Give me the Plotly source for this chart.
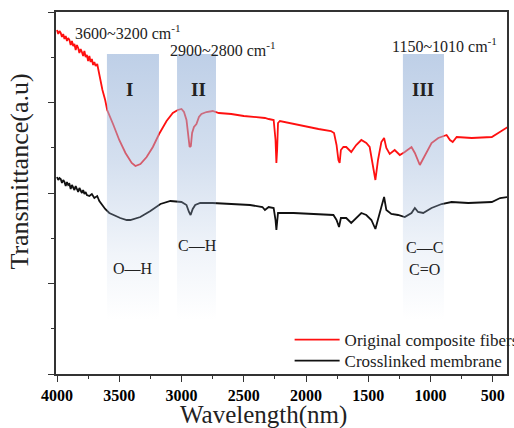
import plotly.graph_objects as go

# ---------------- data (wavenumber, transmittance a.u.) ----------------
red_wn = [4000,3990,3980,3970,3960,3950,3940,3930,3920,3910,3900,3890,3880,3870,3860,3850,3840,3830,3820,3810,
          3800,3790,3780,3770,3760,3750,3740,3730,3720,3710,3700,3690,3677,3665,3653,3635,3613,3597,3550,3500,
          3450,3400,3370,3330,3280,3230,3180,3120,3070,3030,3000,2980,2960,2945,2935,2925,2915,2900,2880,2860,
          2840,2800,2750,2700,2600,2500,2400,2330,2300,2260,2245,2238,2232,2225,2210,2100,2000,1900,1800,1775,
          1755,1740,1730,1720,1700,1677,1637,1597,1556,1516,1489,1462,1443,1422,1395,1373,1355,1328,1288,1247,
          1207,1153,1126,1086,1046,992,938,871,844,822,790,669,508,441,380]
red_t = [342,338,341,339,335,338,333,336,331,334,332,327,331,326,328,322,327,324,319,323,
         320,316,321,315,317,311,316,310,313,307,310,306,308,300,292,282,272,262,248,232,
         219,209,206,208,215,225,238,251,259,262,263,260,252,237,225,226,239,245,248,255,
         258,260,261,259,258,256,255,254,253,252,232,209,222,249,251,248,245,243,241,239,
         227,212,209,222,225,225,220,227,232,229,225,207,192,212,230,234,224,218,222,217,
         220,225,219,207,217,229,234,237,232,230,235,234,235,240,245]

black_wn = [4000,3990,3980,3970,3960,3950,3940,3930,3920,3910,3900,3890,3880,3870,3860,3850,3840,3830,3820,3810,
            3800,3790,3780,3770,3760,3740,3720,3700,3677,3660,3640,3613,3580,3548,3492,3440,3411,3331,3250,3169,
            3089,3000,2960,2940,2927,2910,2890,2850,2750,2600,2450,2350,2330,2300,2260,2245,2238,2232,2225,2100,
            1900,1780,1755,1735,1720,1677,1637,1597,1556,1516,1475,1443,1422,1395,1373,1355,1315,1261,1207,1153,
            1126,1100,1059,992,911,831,697,508,441,380]
black_t = [195,192,194,193,189,192,190,186,190,187,188,183,187,185,182,186,183,180,184,181,
           179,182,178,180,177,176,178,174,176,171,167,163,159,157,154,152,152,155,161,168,
           171,170,167,160,157,163,167,169,169,168,167,165,162,165,164,152,142,150,159,159,
           158,157,152,145,154,154,149,154,159,157,152,143,154,165,175,162,158,157,155,159,
           164,160,159,164,168,170,169,170,174,175]

series_names = ["Original composite fibers", "Crosslinked membrane"]

# shaded absorption bands (wavenumber start, end)
band_ranges = [(3599, 3181), (3036, 2723), (1222, 892)]
band_names = ["I", "II", "III"]
band_bottom, band_top = 52, 318

FONT = "Liberation Serif"

fig = go.Figure()
fig.add_trace(go.Scatter(x=red_wn, y=red_t, mode="lines", name=series_names[0], legend="legend",
                         line=dict(color="#ff1010", width=1.8)))
fig.add_trace(go.Scatter(x=black_wn, y=black_t, mode="lines", name=series_names[1], legend="legend2",
                         line=dict(color="#111111", width=1.8)))

for (a, b) in band_ranges:
    fig.add_trace(go.Scatter(
        x=[a, b, b, a, a], y=[band_bottom, band_bottom, band_top, band_top, band_bottom],
        mode="lines", line=dict(width=0, color="rgba(0,0,0,0)"), fill="toself",
        fillgradient=dict(type="vertical", start=band_bottom, stop=band_top,
                          colorscale=[[0, "rgba(160,185,220,0)"], [0.25, "rgba(160,185,220,0.15)"],
                                      [0.6, "rgba(160,185,220,0.45)"], [1, "rgba(160,185,220,0.68)"]]),
        showlegend=False, hoverinfo="skip"))

ann = []
def txt(x, y, s, size=16, bold=False, xref="x", yref="y", angle=0):
    ann.append(dict(x=x, y=y, xref=xref, yref=yref, text=(f"<b>{s}</b>" if bold else s),
                    showarrow=False, textangle=angle, xanchor="center", yanchor="middle",
                    font=dict(family=FONT, size=size, color="#222222")))

txt(3426, 340, "3600~3200 cm<sup>-1</sup>")
txt(2663, 323, "2900~2800 cm<sup>-1</sup>")
txt(884, 327, "1150~1010 cm<sup>-1</sup>")
txt(3414, 283, band_names[0], size=19, bold=True)
txt(2860, 283, band_names[1], size=19, bold=True)
txt(1061, 283, band_names[2], size=19, bold=True)
txt(3390, 104, "O—H")
txt(2868, 127, "C—H")
txt(1045, 125, "C—C")
txt(1045, 103, "C=O")
txt(0.461, -0.112, "Wavelength(nm)", size=25, xref="paper", yref="paper")
txt(-0.083, 0.558, "Transmittance(a.u)", size=26, xref="paper", yref="paper", angle=-90)

legend_common = dict(xanchor="left", yanchor="middle", bgcolor="rgba(0,0,0,0)",
                     font=dict(family=FONT, size=17, color="#222222"), itemwidth=45, borderwidth=0)

fig.update_layout(
    width=514, height=428,
    margin=dict(l=56, r=7, t=12, b=54, autoexpand=False),
    paper_bgcolor="white", plot_bgcolor="white",
    annotations=ann,
    showlegend=True,
    legend=dict(x=0.518, y=(374 - 340) / 362, **legend_common),
    legend2=dict(x=0.518, y=(374 - 361) / 362, **legend_common),
    xaxis=dict(range=[4008, 386], showgrid=False, zeroline=False,
               tickvals=[4000, 3500, 3000, 2500, 2000, 1500, 1000, 500],
               ticks="outside", ticklen=6, tickwidth=1.2, tickcolor="#333",
               minor=dict(dtick=250, tick0=0, ticks="outside", ticklen=3, tickcolor="#333"),
               tickfont=dict(family=FONT, size=16, color="black", weight="bold"),
               showline=True, linecolor="#333", linewidth=1.5, mirror=True),
    yaxis=dict(range=[-2, 360], showgrid=False, zeroline=False, showticklabels=False,
               tick0=-2, dtick=90.5, ticks="outside", ticklen=6, tickwidth=1.2, tickcolor="#333",
               minor=dict(dtick=45.25, tick0=-2, ticks="outside", ticklen=3, tickcolor="#333"),
               showline=True, linecolor="#333", linewidth=1.5, mirror=True),
)

fig.write_html("out.html", config={"displayModeBar": False},
               post_script="document.body.style.margin='0';document.body.style.overflow='hidden';")
